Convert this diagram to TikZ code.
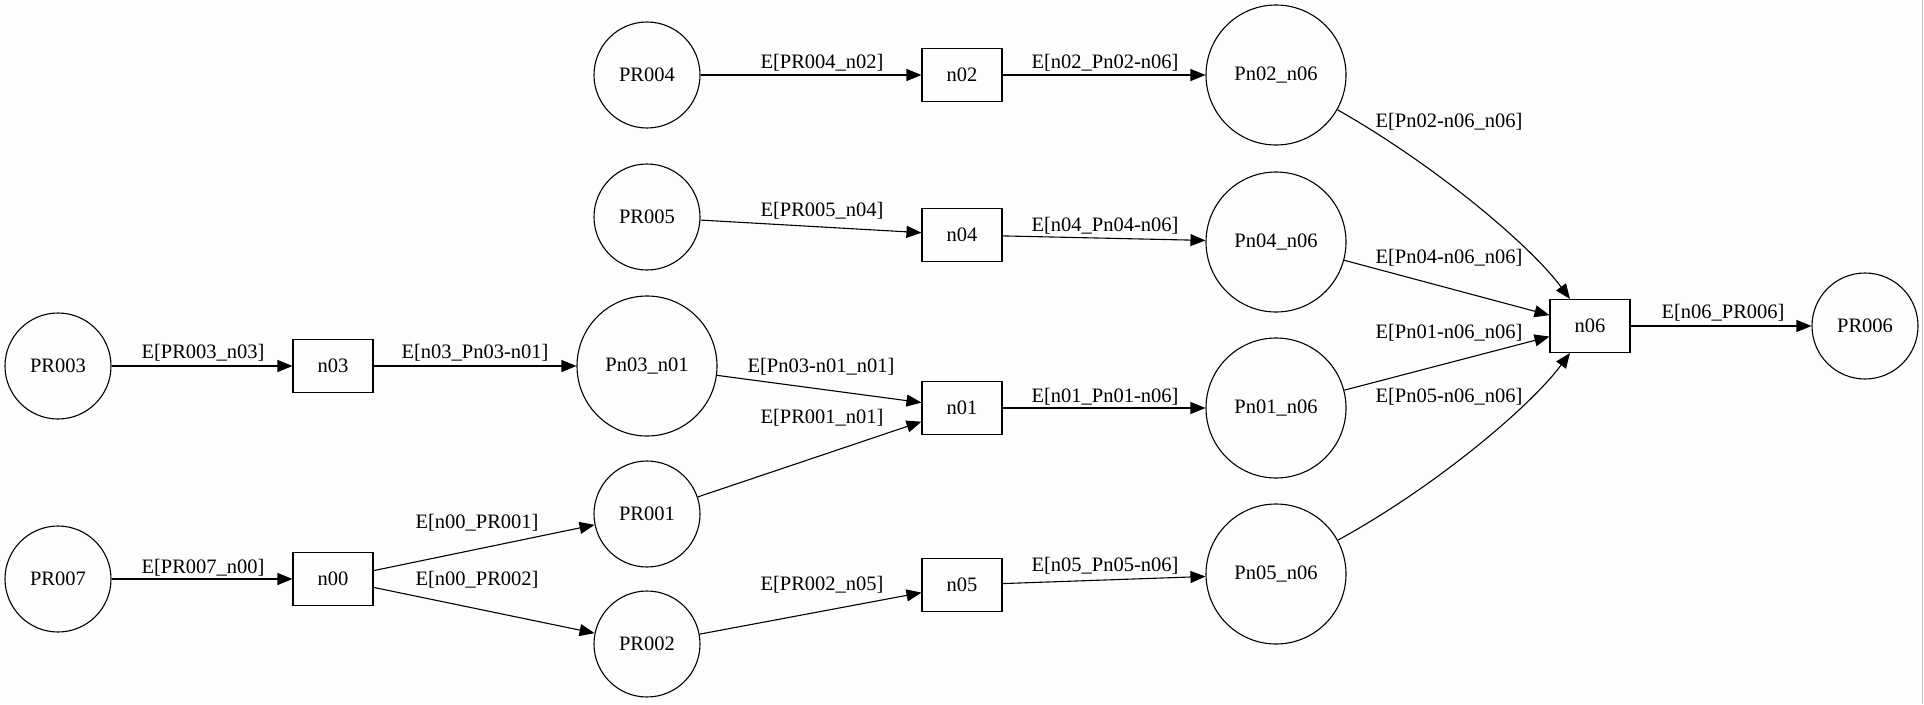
\documentclass[tikz,border=0pt]{standalone}
\usepackage{fontspec}
\setmainfont{Liberation Serif}
\usetikzlibrary{arrows.meta}
\definecolor{bg}{RGB}{252,254,252}
\begin{document}
\begin{tikzpicture}[x=1pt,y=-1pt,
  every node/.style={font=\fontsize{20.5}{24}\selectfont},
  place/.style={draw, circle, line width=1.1pt, inner sep=0pt, minimum size=106pt},
  bigplace/.style={place, minimum size=140pt},
  trans/.style={draw, rectangle, line width=1.1pt, inner sep=0pt,
                minimum width=80pt, minimum height=53pt},
  arc/.style={-{Triangle[length=15pt,width=12pt]}, line width=1.1pt},
  lbl/.style={inner sep=0pt}]
% canvas
\fill[bg] (0,0) rectangle (1924,704);
\useasboundingbox (0,0) rectangle (1924,704);
\draw[gray!50, line width=1pt] (1922.5,0) -- (1922.5,704);

% places
\node[place] (PR003) at (58,366) {PR003};
\node[place] (PR007) at (58,579) {PR007};
\node[place] (PR004) at (647,75) {PR004};
\node[place] (PR005) at (647,217) {PR005};
\node[bigplace] (Pn03n01) at (647,366) {Pn03\_n01};
\node[place] (PR001) at (647,514) {PR001};
\node[place] (PR002) at (647,644) {PR002};
\node[bigplace] (Pn02n06) at (1276,75) {Pn02\_n06};
\node[bigplace] (Pn04n06) at (1276,242) {Pn04\_n06};
\node[bigplace] (Pn01n06) at (1276,408) {Pn01\_n06};
\node[bigplace] (Pn05n06) at (1276,574) {Pn05\_n06};
\node[place] (PR006) at (1865,326) {PR006};

% transitions
\node[trans] (n03) at (333,366) {n03};
\node[trans] (n00) at (333,579) {n00};
\node[trans] (n02) at (962,75) {n02};
\node[trans] (n04) at (962,235) {n04};
\node[trans] (n01) at (962,408) {n01};
\node[trans] (n05) at (962,585) {n05};
\node[trans] (n06) at (1590,326) {n06};

% arcs
\draw[arc] (PR004) -- (n02);
\draw[arc] (n02) -- (Pn02n06);
\draw[arc] (PR005) -- (n04);
\draw[arc] (n04) -- (Pn04n06);
\draw[arc] (PR003) -- (n03);
\draw[arc] (n03) -- (Pn03n01);
\draw[arc] (Pn03n01) -- (n01);
\draw[arc] (PR001) -- (n01);
\draw[arc] (n01) -- (Pn01n06);
\draw[arc] (PR002) -- (n05);
\draw[arc] (n05) -- (Pn05n06);
\draw[arc] (PR007) -- (n00);
\draw[arc] (n00) -- (PR001);
\draw[arc] (n00) -- (PR002);
\draw[arc] (Pn02n06) .. controls (1435,165) and (1530,245) .. (n06);
\draw[arc] (Pn04n06) -- (n06);
\draw[arc] (Pn01n06) -- (n06);
\draw[arc] (Pn05n06) .. controls (1435,487) and (1530,407) .. (n06);
\draw[arc] (n06) -- (PR006);

% arc labels
\node[lbl] (lPR004n02) at (822,63) {E[PR004\_n02]};
\node[lbl] (ln02Pn02) at (1105,63) {E[n02\_Pn02-n06]};
\node[lbl] (lPR005n04) at (822,211) {E[PR005\_n04]};
\node[lbl] (ln04Pn04) at (1105,226) {E[n04\_Pn04-n06]};
\node[lbl] (lPR003n03) at (203,353) {E[PR003\_n03]};
\node[lbl] (ln03Pn03) at (475,353) {E[n03\_Pn03-n01]};
\node[lbl] (lPn03n01) at (821,367) {E[Pn03-n01\_n01]};
\node[lbl] (lPR001n01) at (822,418) {E[PR001\_n01]};
\node[lbl] (ln01Pn01) at (1105,397) {E[n01\_Pn01-n06]};
\node[lbl] (lPR002n05) at (822,585) {E[PR002\_n05]};
\node[lbl] (ln05Pn05) at (1105,566) {E[n05\_Pn05-n06]};
\node[lbl] (lPR007n00) at (203,568) {E[PR007\_n00]};
\node[lbl] (ln00PR001) at (477,523) {E[n00\_PR001]};
\node[lbl] (ln00PR002) at (477,580) {E[n00\_PR002]};
\node[lbl] (lPn02n06) at (1449,122) {E[Pn02-n06\_n06]};
\node[lbl] (lPn04n06) at (1449,258) {E[Pn04-n06\_n06]};
\node[lbl] (lPn01n06) at (1449,333) {E[Pn01-n06\_n06]};
\node[lbl] (lPn05n06) at (1449,397) {E[Pn05-n06\_n06]};
\node[lbl] (ln06PR006) at (1723,313) {E[n06\_PR006]};
\end{tikzpicture}
\end{document}
